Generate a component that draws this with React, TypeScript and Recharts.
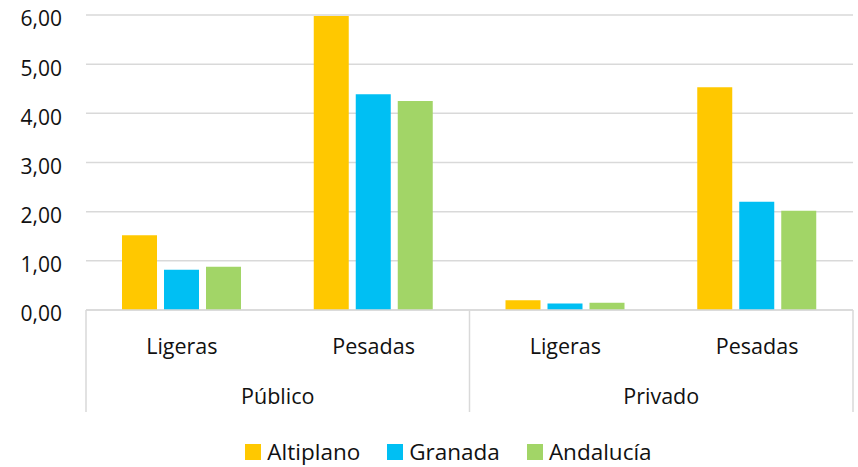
import React from 'react';
import { BarChart, Bar, XAxis, YAxis, CartesianGrid, Legend } from 'recharts';

const categories = ['Ligeras', 'Pesadas', 'Ligeras', 'Pesadas'];
const groups = ['Público', 'Público', 'Privado', 'Privado'];
const altiplano = [1.52, 5.98, 0.2, 4.53];
const granada = [0.82, 4.39, 0.13, 2.2];
const andalucia = [0.88, 4.25, 0.15, 2.02];
const yTicks = [0, 1, 2, 3, 4, 5, 6];
const seriesNames = ['Altiplano', 'Granada', 'Andalucía'];
const seriesColors = ['#FFC800', '#00BFF3', '#A2D567'];

const data = categories.map((c, i) => ({
  key: groups[i] + '-' + c,
  Altiplano: altiplano[i],
  Granada: granada[i],
  'Andalucía': andalucia[i],
}));

const FONT = '"Open Sans", sans-serif';
const TEXT = '#111111';
const LINE = '#d9d9d9';

const XTick = (props: any) => {
  const { x, y, index, payload } = props;
  const half = payload && payload.offset ? payload.offset : 96;
  const els: any[] = [];
  els.push(
    <text key="c" x={x} y={y + 44} textAnchor="middle" fontSize={21.5} fill={TEXT} fontFamily={FONT}>
      {categories[index]}
    </text>
  );
  if (index === 0 || groups[index] !== groups[index - 1]) {
    els.push(
      <line key="l" x1={x - half} x2={x - half} y1={y} y2={y + 102} stroke={LINE} strokeWidth={1.5} />
    );
    els.push(
      <text key="g" x={x + half} y={y + 94} textAnchor="middle" fontSize={21.5} fill={TEXT} fontFamily={FONT}>
        {groups[index]}
      </text>
    );
  }
  if (index === categories.length - 1) {
    els.push(
      <line key="r" x1={x + half} x2={x + half} y1={y} y2={y + 102} stroke={LINE} strokeWidth={1.5} />
    );
  }
  return <g>{els}</g>;
};

const LegendContent = () => (
  <div
    style={{
      height: 28,
      display: 'flex',
      justifyContent: 'center',
      alignItems: 'center',
      paddingLeft: 44,
      fontFamily: FONT,
      fontSize: 22.5,
      color: TEXT,
      lineHeight: '28px',
    }}
  >
    {seriesNames.map((n, i) => (
      <div key={n} style={{ display: 'flex', alignItems: 'center', marginLeft: i === 0 ? 0 : 27 }}>
        <div style={{ width: 16, height: 16, background: seriesColors[i], marginRight: 6 }} />
        <span>{n}</span>
      </div>
    ))}
  </div>
);

export default function App() {
  return (
    <div style={{ position: 'absolute', left: 0, top: 0, width: 858, height: 467, background: '#fff' }}>
      <BarChart
        width={858}
        height={467}
        data={data}
        margin={{ top: 15, right: 5, left: 0, bottom: 1 }}
        barSize={35}
        barGap={7}
      >
        <CartesianGrid vertical={false} stroke={LINE} strokeWidth={1.5} />
        <YAxis
          domain={[0, 6]}
          ticks={yTicks}
          width={86}
          axisLine={false}
          tickLine={false}
          tickSize={0}
          tickMargin={24}
          tickFormatter={(v: number) => v.toFixed(2).replace('.', ',')}
          tick={{ fontSize: 21, fill: TEXT, fontFamily: FONT, dy: 4 }}
        />
        <XAxis
          dataKey="key"
          height={128}
          interval={0}
          axisLine={{ stroke: LINE, strokeWidth: 1.5 }}
          tickLine={false}
          tickSize={0}
          tickMargin={0}
          tick={<XTick />}
        />
        <Legend verticalAlign="bottom" content={<LegendContent />} />
        {seriesNames.map((n, i) => (
          <Bar key={n} dataKey={n} fill={seriesColors[i]} isAnimationActive={false} />
        ))}
      </BarChart>
    </div>
  );
}
